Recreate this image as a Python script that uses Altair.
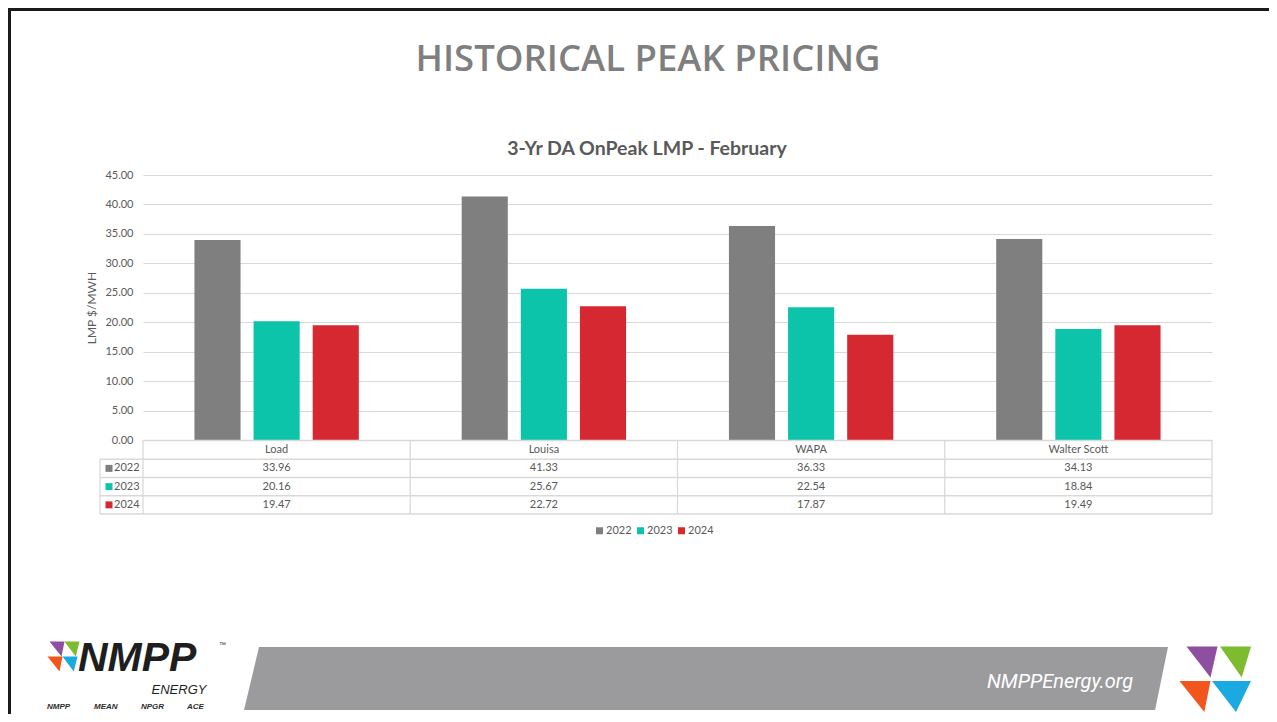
import altair as alt
import pandas as pd

# ---------------- data ----------------
categories = ["Load", "Louisa", "WAPA", "Walter Scott"]
years = ["2022", "2023", "2024"]
values_2022 = [33.96, 41.33, 36.33, 34.13]
values_2023 = [20.16, 25.67, 22.54, 18.84]
values_2024 = [19.47, 22.72, 17.87, 19.49]
year_colors = ["#7f7f7f", "#0cc4aa", "#d62830"]
y_ticks = [0, 5, 10, 15, 20, 25, 30, 35, 40, 45]

slide_title = "HISTORICAL PEAK PRICING"
chart_title = "3-Yr DA OnPeak LMP - February"
y_title = "LMP $/MWH"
footer_url = "NMPPEnergy.org"

rows = []
for yr, vals in zip(years, [values_2022, values_2023, values_2024]):
    for c, v in zip(categories, vals):
        rows.append({"cat": c, "year": yr, "value": v})
df = pd.DataFrame(rows)

table_rows = [{"cat": c, "row": "hdr", "text": c} for c in categories]
for r in rows:
    table_rows.append({"cat": r["cat"], "row": r["year"], "text": f"{r['value']:.2f}"})
df_table = pd.DataFrame(table_rows)
df_years = pd.DataFrame({"year": years, "row": years})
df_cats = pd.DataFrame({"cat": categories})
one = pd.DataFrame({"k": [0]})

# ---------------- style ----------------
W, H = 1069, 265
PAD = {"left": 135, "top": 167, "right": 57, "bottom": 274}
FONT = "Lato"
TXT = "#595959"
GRIDC = "#d9d9d9"
TABLE_BOTTOM = 339
LABEL_COL = -43

x_scale = alt.Scale(domain=categories, paddingInner=0, paddingOuter=0)
row_scale = alt.Scale(domain=["hdr"] + years, range=[H + 1, TABLE_BOTTOM],
                      paddingInner=0, paddingOuter=0)
color_scale = alt.Scale(domain=years, range=year_colors)

bars = alt.Chart(df).mark_bar().encode(
    x=alt.X("cat:N", sort=categories, scale=x_scale, axis=None),
    xOffset=alt.XOffset("year:N", sort=years,
                        scale=alt.Scale(domain=years, paddingInner=0.22, paddingOuter=0.87)),
    y=alt.Y("value:Q", scale=alt.Scale(domain=[0, 45], nice=False),
            axis=alt.Axis(values=y_ticks, format=".2f", title=y_title, grid=True,
                          gridColor=GRIDC, domain=False, ticks=False, labelPadding=10,
                          labelFont=FONT, labelFontSize=11, labelColor=TXT,
                          titleFont=FONT, titleFontSize=12, titleFontWeight="normal",
                          titleColor=TXT, titlePadding=6)),
    color=alt.Color("year:N", scale=color_scale,
                    legend=alt.Legend(orient="none", legendX=451, legendY=350,
                                      direction="horizontal", title=None,
                                      symbolType="square", symbolSize=49,
                                      symbolStrokeWidth=0, labelFont=FONT,
                                      labelFontSize=11, labelColor=TXT,
                                      columnPadding=3, labelOffset=1, padding=0)),
)

# table text
table_text = alt.Chart(df_table).mark_text(font=FONT, fontSize=11, color=TXT, baseline="middle").encode(
    x=alt.X("cat:N", sort=categories, scale=x_scale, axis=None),
    y=alt.Y("row:N", scale=row_scale, axis=None),
    text="text:N",
)

row_squares = alt.Chart(df_years).mark_square(size=49, opacity=1).encode(
    x=alt.value(-34),
    y=alt.Y("row:N", scale=row_scale, axis=None),
    color=alt.Color("year:N", scale=color_scale, legend=None),
)
row_labels = alt.Chart(df_years).mark_text(font=FONT, fontSize=11, color=TXT, align="left", baseline="middle").encode(
    x=alt.value(-29),
    y=alt.Y("row:N", scale=row_scale, axis=None),
    text="year:N",
)

line_style = dict(color=GRIDC, strokeWidth=1.3)
h_lines = alt.Chart(df_years).mark_rule(**line_style).encode(
    y=alt.Y("row:N", scale=row_scale, axis=None, bandPosition=0),
    x=alt.value(LABEL_COL), x2=alt.value(W),
)
h_top = alt.Chart(one).mark_rule(**line_style).encode(
    y=alt.value(H + 0.5), x=alt.value(0), x2=alt.value(W))
h_bottom = alt.Chart(one).mark_rule(**line_style).encode(
    y=alt.value(TABLE_BOTTOM), x=alt.value(LABEL_COL), x2=alt.value(W))
v_lines = alt.Chart(df_cats).mark_rule(**line_style).encode(
    x=alt.X("cat:N", sort=categories, scale=x_scale, axis=None, bandPosition=0),
    y=alt.value(H), y2=alt.value(TABLE_BOTTOM),
)
v_right = alt.Chart(one).mark_rule(**line_style).encode(
    x=alt.value(W), y=alt.value(H), y2=alt.value(TABLE_BOTTOM))
v_left = alt.Chart(one).mark_rule(**line_style).encode(
    x=alt.value(LABEL_COL), y=alt.value(H + 1 + 18.25), y2=alt.value(TABLE_BOTTOM))

# titles
t_slide = alt.Chart(one).mark_text(text=slide_title, font="Open Sans", fontWeight=600,
                                   fontSize=36.5, color="#7f7f7f", align="center",
                                   baseline="middle").encode(x=alt.value(505), y=alt.value(-115))
t_chart = alt.Chart(one).mark_text(text=chart_title, font=FONT, fontSize=19.5, fontWeight="bold",
                                   color=TXT, align="center", baseline="middle").encode(
    x=alt.value(504), y=alt.value(-26))

# slide frame
frame_top = alt.Chart(one).mark_rule(color="#1a1a1a", strokeWidth=3).encode(
    y=alt.value(-165.5), x=alt.value(-135), x2=alt.value(W + 57))
frame_left = alt.Chart(one).mark_rule(color="#1a1a1a", strokeWidth=3).encode(
    x=alt.value(-133.5), y=alt.value(-167), y2=alt.value(H + 274))

# footer band
band = alt.Chart(one).mark_point(
    shape="M-0.9675,-0.0682L1,-0.0682L0.972,0.0682L-1,0.0682Z",
    size=924 ** 2, filled=True, color="#9b9b9e", opacity=1, strokeWidth=0,
).encode(x=alt.value(563), y=alt.value(503.5))
url = alt.Chart(one).mark_text(text=footer_url, font="Roboto",
                               fontStyle="italic", fontSize=20, color="white",
                               align="center", baseline="middle").encode(
    x=alt.value(917), y=alt.value(507))


def tri(path, px, py, size, color):
    return alt.Chart(one).mark_point(shape=path, size=size, filled=True, color=color,
                                     opacity=1, strokeWidth=0).encode(
        x=alt.value(px - 143), y=alt.value(py - 175))


logo_parts = [
    tri("M-1,-1L1,-1L0.55,1Z", 1202, 662, 31 ** 2, "#8e4fa0"),
    tri("M-1,-1L1,-1L0.4,1Z", 1235.5, 662, 31 ** 2, "#7dbb2f"),
    tri("M-1,-1L1,-1L0.6,1Z", 1195, 696.5, 31 ** 2, "#f2561d"),
    tri("M-1,-0.8L1,-0.8L0.23,0.8Z", 1231.5, 696.5, 39 ** 2, "#1aa9e0"),
    tri("M-1,-1L1,-1L0.6,1Z", 57, 649, 15 ** 2, "#8e4fa0"),
    tri("M-1,-1L1,-1L0.5,1Z", 72, 649, 15 ** 2, "#7dbb2f"),
    tri("M-1,-1L1,-1L0.6,1Z", 55, 664, 15 ** 2, "#f2561d"),
    tri("M-1,-1L1,-1L0.5,1Z", 70, 664, 15 ** 2, "#1aa9e0"),
]

nmpp = alt.Chart(one).mark_text(text="NMPP", font="Liberation Sans", fontWeight="bold",
                                fontStyle="italic", fontSize=41, color="#1e1e1e",
                                align="left", baseline="alphabetic").encode(
    x=alt.value(78 - 143), y=alt.value(671 - 175))
tm = alt.Chart(one).mark_text(text="™", font="Liberation Sans", fontSize=7, color="#333333",
                              align="left", baseline="middle").encode(
    x=alt.value(219 - 143), y=alt.value(645 - 175))
energy = alt.Chart(one).mark_text(text="ENERGY", font="Liberation Sans", fontStyle="italic",
                                  fontSize=13, color="#1e1e1e", align="center",
                                  baseline="alphabetic").encode(
    x=alt.value(179 - 143), y=alt.value(694 - 175))
small_names = ["NMPP", "MEAN", "NPGR", "ACE"]
small_x = [47, 94, 141, 187]
small = [alt.Chart(one).mark_text(text=n, font="Liberation Sans", fontWeight="bold",
                                  fontStyle="italic", fontSize=8, color="#2b2b2b",
                                  align="left", baseline="middle").encode(
    x=alt.value(sx - 143), y=alt.value(707 - 175)) for n, sx in zip(small_names, small_x)]

chart = alt.layer(
    frame_top, frame_left, band, url, *logo_parts, nmpp, tm, energy, *small,
    t_slide, t_chart,
    bars, h_top, h_lines, h_bottom, v_lines, v_right, v_left,
    table_text, row_squares, row_labels,
).resolve_scale(y="independent").properties(
    width=W, height=H, padding=PAD,
    autosize=alt.AutoSizeParams(type="none"),
).configure_view(stroke=None)

chart.save("out.html", embed_options={"renderer": "svg", "actions": False})
